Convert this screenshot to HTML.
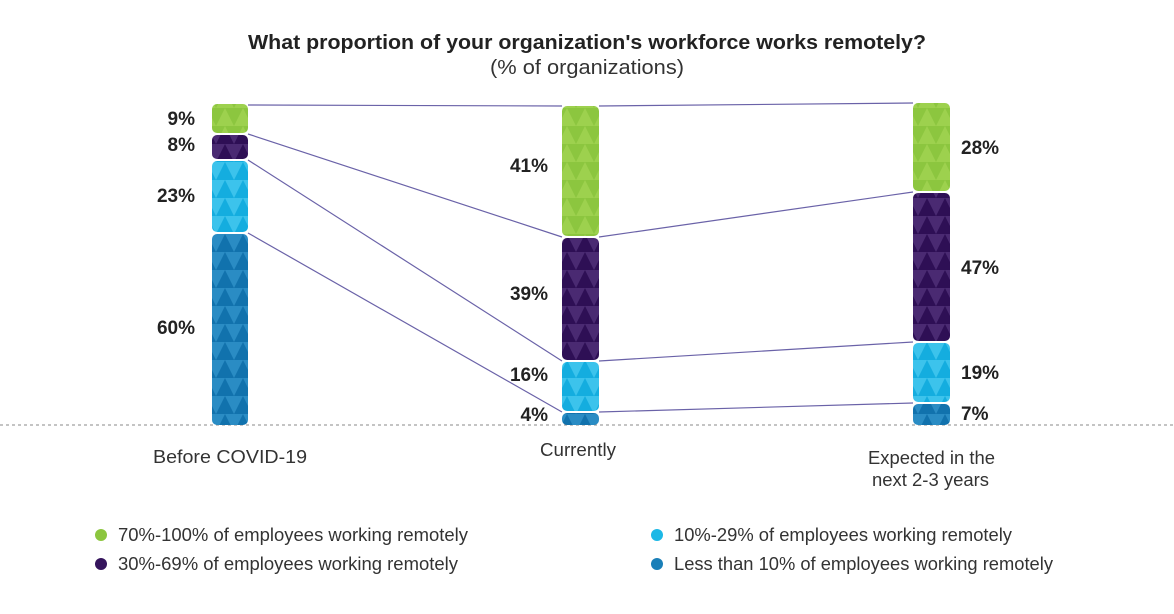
<!DOCTYPE html>
<html><head><meta charset="utf-8"><style>
body{margin:0;background:#fff;font-family:"Liberation Sans",sans-serif;}
</style></head><body>
<svg width="1174" height="609" xmlns="http://www.w3.org/2000/svg" font-family="Liberation Sans, sans-serif">
<defs>
<pattern id="pg" width="18" height="18" patternUnits="userSpaceOnUse"><rect width="18" height="18" fill="#8cc63f"/><path d="M0 18L9 0L18 18Z" fill="#9dd14e"/></pattern>
<pattern id="pp" width="18" height="18" patternUnits="userSpaceOnUse"><rect width="18" height="18" fill="#4a2a72"/><path d="M0 18L9 0L18 18Z" fill="#2e0f55"/></pattern>
<pattern id="pl" width="18" height="18" patternUnits="userSpaceOnUse"><rect width="18" height="18" fill="#3cc3ec"/><path d="M0 18L9 0L18 18Z" fill="#14addf"/></pattern>
<pattern id="pb" width="18" height="18" patternUnits="userSpaceOnUse"><rect width="18" height="18" fill="#2a8cc4"/><path d="M0 18L9 0L18 18Z" fill="#1172ad"/></pattern>
</defs>
<text x="248" y="49" textLength="678" lengthAdjust="spacingAndGlyphs" font-size="20" font-weight="bold" fill="#222">What proportion of your organization's workforce works remotely?</text>
<text x="490" y="74" textLength="194" lengthAdjust="spacingAndGlyphs" font-size="20" fill="#333">(% of organizations)</text>
<line x1="0" y1="425" x2="1174" y2="425" stroke="#888" stroke-dasharray="3,3"/>
<g stroke="#6a62a8" stroke-width="1.2" fill="none">
<line x1="248" y1="105" x2="562" y2="106"/><line x1="248" y1="134" x2="562" y2="237"/>
<line x1="248" y1="160" x2="562" y2="361"/><line x1="248" y1="233" x2="562" y2="412"/>
<line x1="599" y1="106" x2="913" y2="103"/><line x1="599" y1="237" x2="913" y2="192"/>
<line x1="599" y1="361" x2="913" y2="342"/><line x1="599" y1="412" x2="913" y2="403"/>
</g>
<g>
<rect x="212" y="104" width="36" height="29" rx="5" fill="url(#pg)"/>
<rect x="212" y="135" width="36" height="24" rx="5" fill="url(#pp)"/>
<rect x="212" y="161" width="36" height="71" rx="5" fill="url(#pl)"/>
<rect x="212" y="234" width="36" height="191" rx="5" fill="url(#pb)"/>
<rect x="562" y="106" width="37" height="130" rx="5" fill="url(#pg)"/>
<rect x="562" y="238" width="37" height="122" rx="5" fill="url(#pp)"/>
<rect x="562" y="362" width="37" height="49" rx="5" fill="url(#pl)"/>
<rect x="562" y="413" width="37" height="12" rx="5" fill="url(#pb)"/>
<rect x="913" y="103" width="37" height="88" rx="5" fill="url(#pg)"/>
<rect x="913" y="193" width="37" height="148" rx="5" fill="url(#pp)"/>
<rect x="913" y="343" width="37" height="59" rx="5" fill="url(#pl)"/>
<rect x="913" y="404" width="37" height="21" rx="5" fill="url(#pb)"/>
</g>
<g font-size="19" font-weight="bold" fill="#222">
<text x="195" y="125" text-anchor="end">9%</text>
<text x="195" y="151" text-anchor="end">8%</text>
<text x="195" y="202" text-anchor="end">23%</text>
<text x="195" y="334" text-anchor="end">60%</text>
<text x="548" y="172" text-anchor="end">41%</text>
<text x="548" y="300" text-anchor="end">39%</text>
<text x="548" y="381" text-anchor="end">16%</text>
<text x="548" y="421" text-anchor="end">4%</text>
<text x="961" y="154">28%</text>
<text x="961" y="274">47%</text>
<text x="961" y="379">19%</text>
<text x="961" y="420">7%</text>
</g>
<g font-size="18" fill="#333">
<text x="153" y="463" textLength="154" lengthAdjust="spacingAndGlyphs">Before COVID-19</text>
<text x="540" y="456" textLength="76" lengthAdjust="spacingAndGlyphs">Currently</text>
<text x="868" y="464" textLength="127" lengthAdjust="spacingAndGlyphs">Expected in the</text>
<text x="872" y="486" textLength="117" lengthAdjust="spacingAndGlyphs">next 2-3 years</text>
<circle cx="101" cy="535" r="6" fill="#8cc63f"/><text x="118" y="541" textLength="350" lengthAdjust="spacingAndGlyphs">70%-100% of employees working remotely</text>
<circle cx="101" cy="564" r="6" fill="#35145c"/><text x="118" y="570" textLength="340" lengthAdjust="spacingAndGlyphs">30%-69% of employees working remotely</text>
<circle cx="657" cy="535" r="6" fill="#1cb8e6"/><text x="674" y="541" textLength="338" lengthAdjust="spacingAndGlyphs">10%-29% of employees working remotely</text>
<circle cx="657" cy="564" r="6" fill="#1a7fb8"/><text x="674" y="570" textLength="379" lengthAdjust="spacingAndGlyphs">Less than 10% of employees working remotely</text>
</g>
</svg>
</body></html>
